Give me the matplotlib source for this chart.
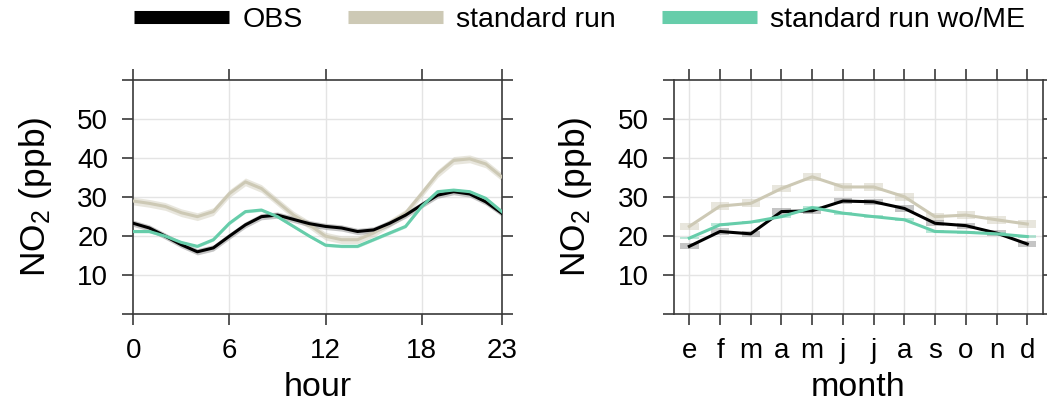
import matplotlib
matplotlib.use("Agg")
import matplotlib.pyplot as plt
from matplotlib.lines import Line2D
import numpy as np

plt.rcParams["font.family"] = ["Liberation Sans", "DejaVu Sans"]
plt.rcParams["mathtext.default"] = "regular"

# Diurnal cycle (hour of day)
hours = list(range(24))
obs_hour = [23.3, 22.1, 20.0, 17.8, 16.0, 17.0, 20.0, 22.9, 25.0, 25.4, 24.3, 23.2,
            22.5, 22.1, 21.2, 21.6, 23.3, 25.4, 28.0, 30.5, 31.4, 30.8, 28.8, 25.9]
std_hour = [29.0, 28.4, 27.6, 26.0, 25.0, 26.3, 30.9, 33.9, 32.2, 28.8, 25.4, 22.9,
            20.0, 19.1, 19.1, 20.8, 23.3, 25.9, 30.9, 36.0, 39.4, 39.8, 38.5, 35.2]
nome_hour = [21.2, 21.2, 20.0, 18.4, 17.4, 19.1, 23.3, 26.3, 26.7, 25.0, 22.5, 20.0,
             17.7, 17.4, 17.4, 19.1, 20.8, 22.5, 27.6, 31.4, 31.8, 31.4, 29.7, 26.3]
hour_ticks = [0, 6, 12, 18, 23]

# Seasonal cycle (month)
months = list(range(1, 13))
month_labels = ["e", "f", "m", "a", "m", "j", "j", "a", "s", "o", "n", "d"]
obs_month = [17.4, 21.2, 20.6, 26.3, 26.5, 29.0, 28.8, 27.1, 23.3, 22.7, 20.8, 18.0]
std_month = [22.5, 27.7, 28.4, 32.2, 35.2, 32.6, 32.6, 30.1, 25.0, 25.4, 24.2, 23.1]
nome_month = [19.5, 22.9, 23.6, 25.0, 27.3, 25.9, 25.0, 24.2, 21.2, 21.0, 20.6, 19.9]

# Half-width of the confidence intervals for each series
ci_obs = 0.8
ci_std = 1.0
ci_nome = 0.35

series_names = ["OBS", "standard run", "standard run wo/ME"]
colors = ["#000000", "#CDC9B5", "#66CDAA"]
band_colors = ["#808080", "#CDC9B5", "#66CDAA"]

spine_col = "#3A3A3A"
grid_col = "#E4E4E4"

fig = plt.figure(figsize=(10.47, 4.08), dpi=100)
ax1 = fig.add_axes([0.1273, 0.2297, 0.3519, 0.5743])
ax2 = fig.add_axes([0.6437, 0.2297, 0.3521, 0.5743])


def style_axes(ax):
    for s in ax.spines.values():
        s.set_color(spine_col)
        s.set_linewidth(1.2)
    ax.set_ylim(0, 60)
    ax.set_yticks(range(0, 61, 10))
    ax.set_yticklabels(["", "10", "20", "30", "40", "50", ""])
    ax.tick_params(axis="both", which="both", direction="out", length=7.6,
                   width=1.2, color=spine_col, labelsize=20, labelcolor="black",
                   top=True, right=True, pad=9.5)
    ax.tick_params(axis="y", pad=10.5)
    ax.set_ylabel("NO$_2$ (ppb)", fontsize=25.5, labelpad=17)
    ax.set_axisbelow(True)


# Hour panel
style_axes(ax1)
ax1.set_xlim(0, 23)
ax1.set_xticks(hour_ticks)
ax1.set_xticklabels([str(h) for h in hour_ticks])
for x in hour_ticks[1:-1]:
    ax1.axvline(x, color=grid_col, lw=1.0, zorder=0)
for y in range(10, 60, 10):
    ax1.axhline(y, color=grid_col, lw=1.0, zorder=0)

hour_series = [obs_hour, std_hour, nome_hour]
ci_vals = [ci_obs, ci_std, ci_nome]
order = [1, 0, 2]
for i in order:
    vals = np.array(hour_series[i])
    ax1.fill_between(hours, vals - ci_vals[i], vals + ci_vals[i],
                     color=band_colors[i], alpha=0.45, lw=0, zorder=2)
for i in order:
    ax1.plot(hours, hour_series[i], color=colors[i], lw=2.2, zorder=3,
             solid_joinstyle="round")
ax1.set_xlabel("hour", fontsize=24.5, labelpad=6)

# Month panel
style_axes(ax2)
ax2.set_xlim(0.5, 12.5)
ax2.set_xticks(months)
ax2.set_xticklabels(month_labels)
for x in months:
    ax2.axvline(x, color=grid_col, lw=1.0, zorder=0)
for y in range(10, 60, 10):
    ax2.axhline(y, color=grid_col, lw=1.0, zorder=0)

month_series = [obs_month, std_month, nome_month]
for i in order:
    vals = np.array(month_series[i])
    ax2.bar(months, 2 * ci_vals[i], bottom=vals - ci_vals[i], width=0.6,
            color=band_colors[i], alpha=0.45, lw=0, zorder=2)
for i in order:
    ax2.plot(months, month_series[i], color=colors[i], lw=2.2, zorder=3,
             solid_joinstyle="round")
ax2.set_xlabel("month", fontsize=24.5, labelpad=6)

handles = [Line2D([], [], color=c, lw=9.4, solid_capstyle="butt") for c in colors]
fig.legend(handles, series_names, loc="center left",
           bbox_to_anchor=(134 / 1047, 1 - 20 / 408), ncol=3, frameon=False,
           fontsize=20.5, handlelength=3.35, handletextpad=0.45,
           columnspacing=1.6, borderpad=0, borderaxespad=0)

fig.savefig("out.png", dpi=100)
